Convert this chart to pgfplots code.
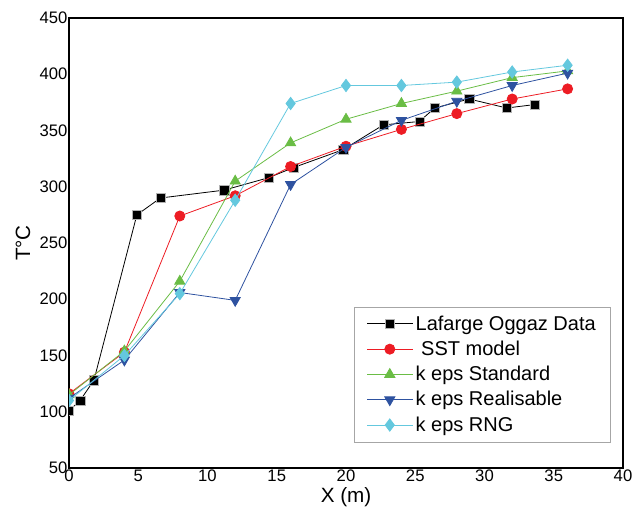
\documentclass[border=0pt]{standalone}
\usepackage{fontspec}
\setmainfont{Liberation Sans}
\usepackage{pgfplots}
\pgfplotsset{compat=1.18}
\definecolor{sstred}{RGB}{237,28,36}
\definecolor{stdgreen}{RGB}{106,189,69}
\definecolor{realblue}{RGB}{46,82,160}
\definecolor{rngcyan}{RGB}{100,200,222}
\begin{document}
\begin{tikzpicture}
\begin{axis}[
  scale only axis,
  width=415.5pt, height=337.5pt,
  xmin=0, xmax=40, ymin=50, ymax=450,
  xtick={0,5,...,40}, ytick={50,100,...,450},
  major tick length=0pt,
  axis line style={line width=1.3pt},
  clip marker paths=true,
  /pgf/number format/assume math mode=true,
  tick label style={font=\fontsize{12.5}{14}\selectfont},
  yticklabel style={inner xsep=1pt},
  xticklabel style={inner ysep=1pt},
  label style={font=\fontsize{15.5}{18}\selectfont},
  xlabel={X (m)},
  ylabel={T°C},
  xlabel style={at={(axis description cs:0.5,-0.064)}, anchor=center},
  ylabel style={at={(axis description cs:-0.083,0.5)}, anchor=center},
  legend style={at={(0.978,0.057)}, anchor=south east, draw=gray!70,
    line width=0.6pt, font=\fontsize{15}{18}\selectfont,
    inner xsep=9pt, inner ysep=4.5pt, row sep=2.6pt},
  legend cell align=left,
  legend image code/.code={
    \draw[mark repeat=2,mark phase=2] plot coordinates {(0cm,0cm) (0.6cm,0cm) (1.2cm,0cm)};},
  every axis plot/.append style={line width=0.6pt},
]
\addplot[color=black, mark=square*, mark size=3.5pt, mark options={fill=black, draw=gray!60, line width=0.3pt}] coordinates {
  (0,101) (0.8,110) (1.8,128) (4.9,275) (6.6,290) (11.2,297) (14.4,308) (16.2,317)
  (19.8,333) (22.7,355) (25.3,358) (26.4,370) (28.9,378) (31.6,370) (33.6,373)
};
\addplot[color=sstred, mark=*, mark size=3.8pt, mark options={fill=sstred, draw=sstred}] coordinates {
  (0,116) (4,153) (8,274) (12,292) (16,318) (20,336) (24,351) (28,365) (32,378) (36,387)
};
\addplot[color=stdgreen, mark=triangle*, mark size=4.4pt, mark options={fill=stdgreen, draw=stdgreen}] coordinates {
  (0,115) (4,154) (8,216) (12,305) (16,339) (20,360) (24,374) (28,385) (32,397) (36,403)
};
\addplot[color=realblue, mark=triangle*, mark size=4.4pt, mark options={fill=realblue, draw=realblue, rotate=180}] coordinates {
  (0,112) (4,146) (8,206) (12,199) (16,302) (20,335) (24,359) (28,376) (32,390) (36,401)
};
\addplot[color=rngcyan, mark=diamond*, mark size=4.6pt, mark options={fill=rngcyan, draw=rngcyan}] coordinates {
  (0,110) (4,150) (8,205) (12,288) (16,374) (20,390) (24,390) (28,393) (32,402) (36,408)
};
\legend{Lafarge Oggaz Data, \ SST model, k eps Standard, k eps Realisable, k eps RNG}
\end{axis}
\path ([shift={(-51.75pt,-35.25pt)}]current axis.south west) rectangle ([shift={(12.75pt,13.5pt)}]current axis.north east);
\end{tikzpicture}
\end{document}
